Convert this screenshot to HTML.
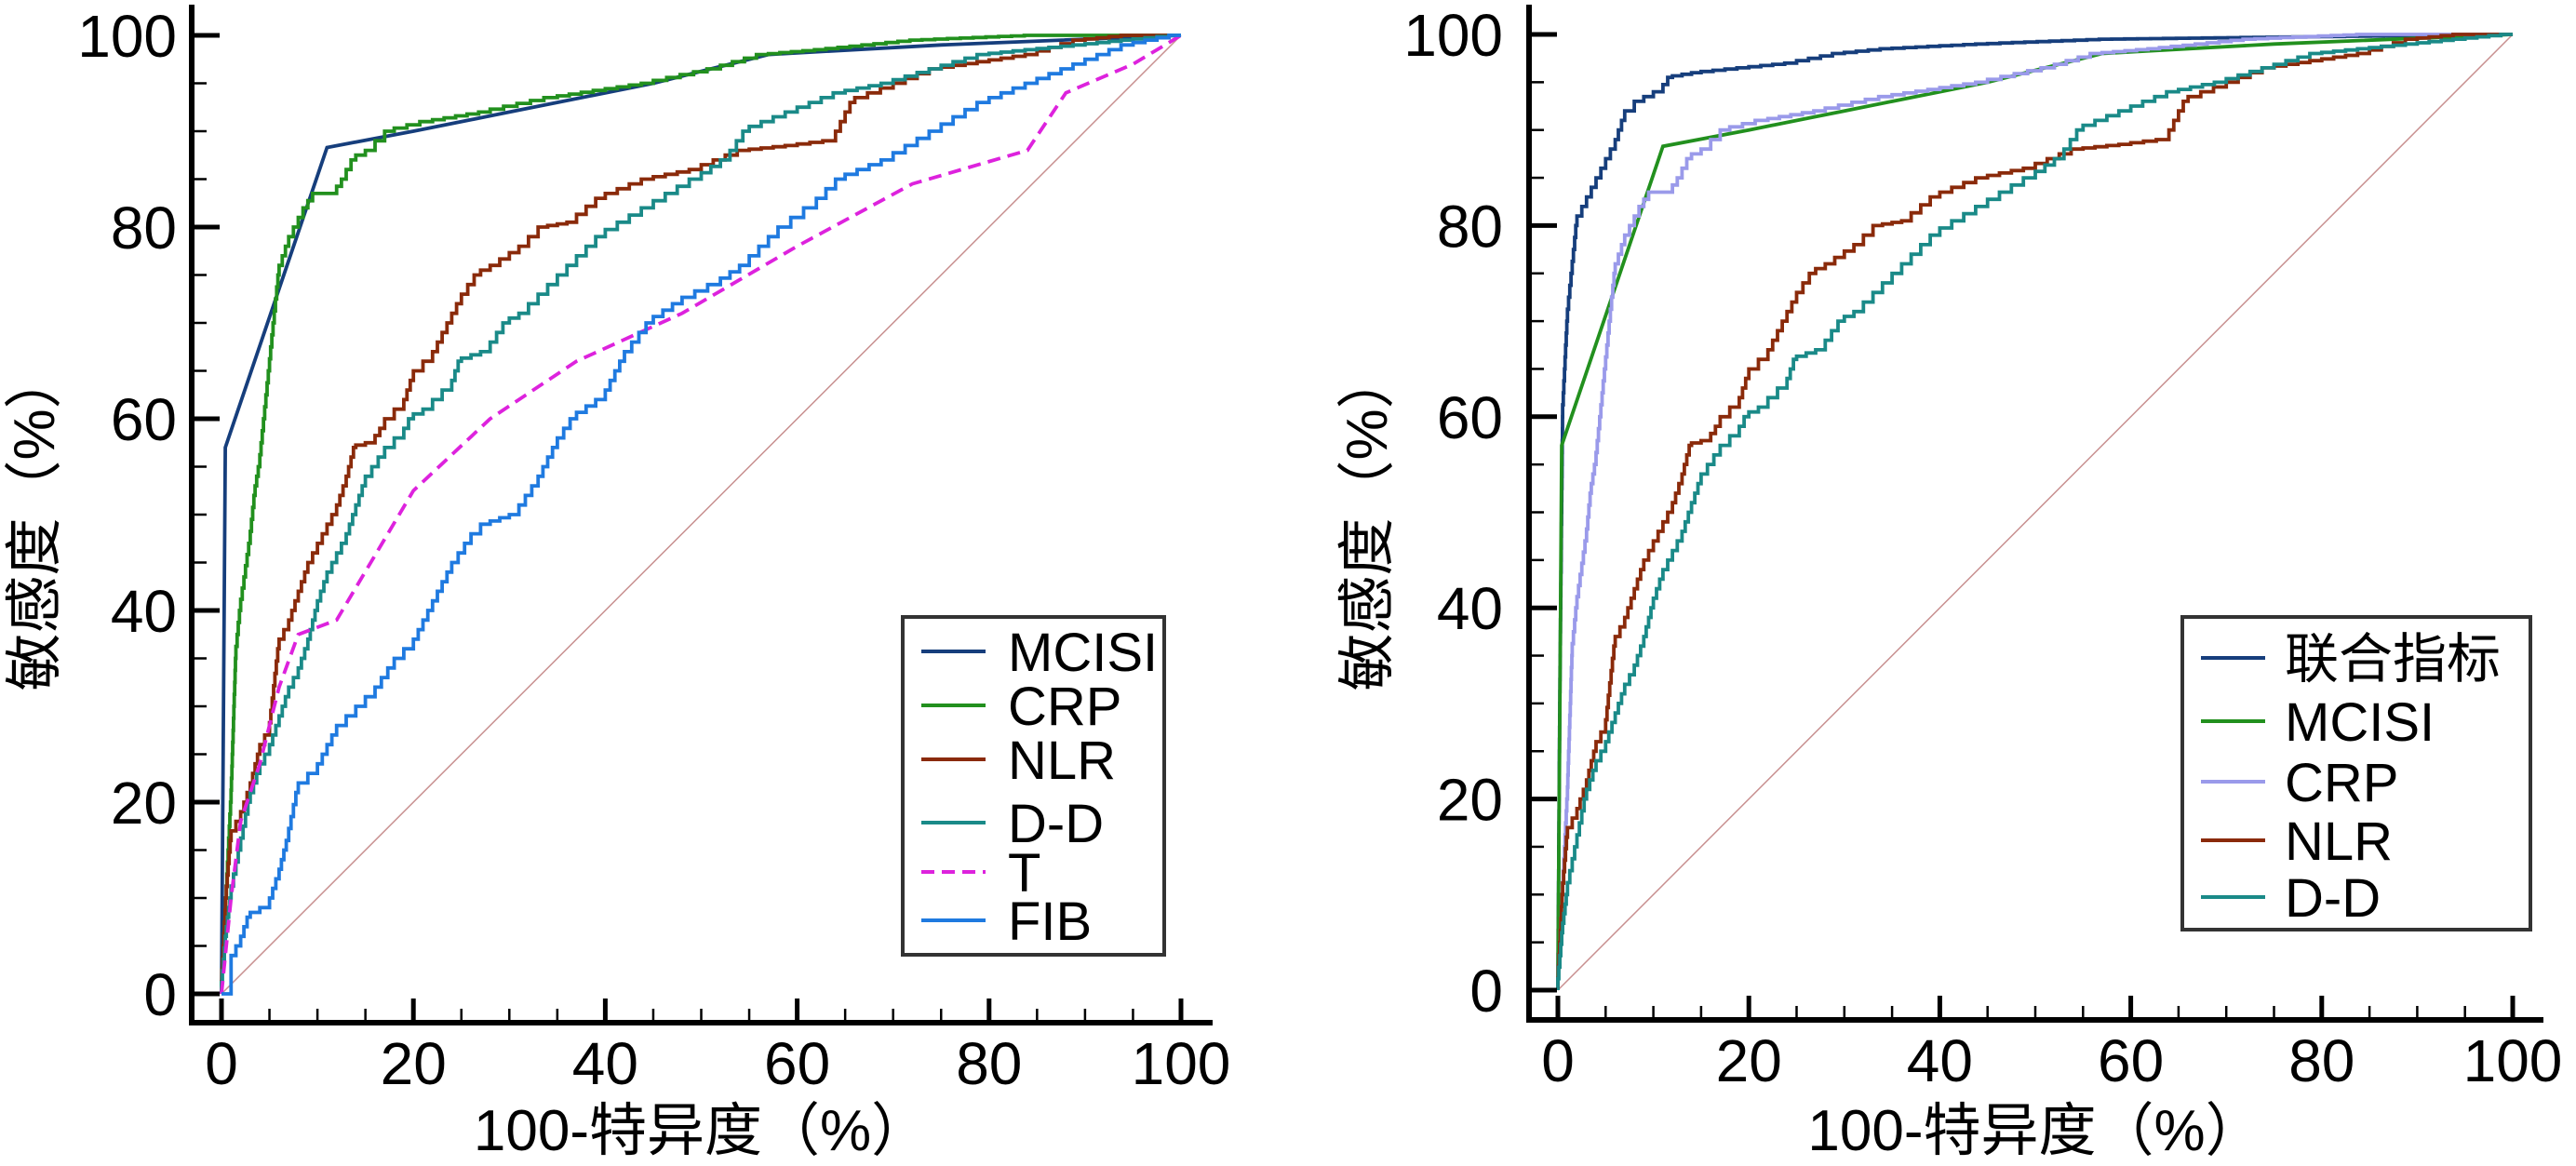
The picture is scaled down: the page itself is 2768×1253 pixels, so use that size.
<!DOCTYPE html>
<html><head><meta charset="utf-8">
<style>
html,body{margin:0;padding:0;background:#fff;}
svg{display:block;}
text{font-family:"Liberation Sans","Noto Sans CJK SC",sans-serif;fill:#000;}
</style></head>
<body>
<svg id="s" width="2768" height="1253" viewBox="0 0 2768 1253" xmlns="http://www.w3.org/2000/svg"></svg>
<script>
const S=document.getElementById('s');
let out='';
function stairsData(pts){
  const r=[[pts[0][0],pts[0][1]]];
  let cx=pts[0][0],cy=pts[0][1];
  for(let i=1;i<pts.length;i++){
    const [x1,y1]=pts[i];const dx=x1-cx,dy=y1-cy;
    const n=Math.max(1,Math.ceil(Math.max(dy/1.3,dx/1.4)));
    for(let k=1;k<=n;k++){
      const nx=cx+dx*k/n, ny=cy+dy*k/n, px=cx+dx*(k-1)/n;
      r.push([px,ny]); r.push([nx,ny]);
    }
    cx=x1;cy=y1;
  }
  return r;
}
const MCISI=[[0,0],[0.4,57],[11,88.3],[20,90],[30,92],[45,95],[57,98],[75,99],[100,100]];
const CRP=[[0,0],[0.5,10],[1,20],[1.5,35],[2,40],[3,47],[3.5,52],[4,55],[4.5,60],[5,65],[5.5,70],[6,75],[7,78],[8,80],[9,82],[10,83.5],[12,83.5],[13,85],[14,87],[16,88],[18,90],[22,91],[28,92],[35,93.5],[45,95],[52,96.5],[57,98],[63,98.5],[73,99.5],[85,100],[100,100]];
const NLR=[[0,0],[0.5,10],[1,16],[2,18],[3,21],[4,25],[5,27],[6,36],[7,38],[8,41],[9,44],[10,46],[11,48],[12,50],[13,53],[14,57],[16,57.5],[17,59],[19,61],[20,64],[22,66],[24,70],[25,72],[27,75],[29,76],[32,78],[34,80],[37,80.5],[40,83],[45,85],[50,86],[55,88],[60,88.5],[64,89],[66,93],[70,94.5],[75,96.5],[85,98],[90,99.5],[95,100],[100,100]];
const DD=[[0,0],[0.5,6],[1,10],[2,15],[3,20],[4,23],[5,25],[6,28],[7,31],[8,33],[9,36],[10,40],[11,43],[12,45],[13,47],[14,50],[15,53],[17,56],[19,58],[20,60],[22,61],[24,63],[25,66],[28,67],[30,70],[32,71],[35,74],[38,77],[40,79],[45,82],[50,85],[53,87],[55,90],[60,92],[65,94],[70,95],[75,96.5],[80,98],[90,99],[100,100]];
const T=[[0,0],[1,10],[2,18],[4,24],[6,32],[8,37.5],[12,39],[20,52.5],[28,60],[37,66],[48,71],[60,78],[72,84.5],[84,88],[88,94],[95,97],[100,100]];
const FIB=[[0,0],[1,0],[1,3],[2,5],[3,8],[5,9],[6,12],[7,16],[8,21],[10,23],[12,27],[14,29],[16,31],[18,34],[20,36],[22,40],[24,44],[26,47],[28,49],[31,50],[33,53],[35,57],[37,60],[40,62],[42,66],[45,70],[48,72],[52,74],[55,76],[58,79],[62,82],[65,85],[70,87],[75,90],[80,93],[85,95],[90,97],[95,99],[100,100]];
const COMB=[[0,0],[0.2,30],[0.5,60],[1,70],[1.5,75],[2,80],[3,82],[4,84],[5,86],[6,88],[7,91],[8,92],[9,93],[11,94],[12,95.5],[15,96],[20,96.5],[25,97],[30,98],[35,98.5],[45,99],[58,99.5],[100,100]];

function panel(o){
  const {ax,x0,x100,y0,y100,xaxisY,xend,gap}=o;
  const sx=(x100-x0)/100, sy=(y0-y100)/100;
  let g='';
  g+=`<line x1="${x0}" y1="${y0}" x2="${x100}" y2="${y100}" stroke="#c89090" stroke-width="1.5"/>`;
  for(const s of o.series){
    const dp=s.smooth?s.pts:stairsData(s.pts);
    const d='M'+dp.map(p=>(x0+p[0]*sx).toFixed(1)+','+(y0-p[1]*sy).toFixed(1)).join(' L');
    g+=`<path d="${d}" fill="none" stroke="${s.c}" stroke-width="3.8" ${s.dash?'stroke-dasharray="14,8"':''} stroke-linejoin="miter"/>`;
  }
  g+=`<line x1="${ax}" y1="5" x2="${ax}" y2="${xaxisY+3}" stroke="#000" stroke-width="6"/>`;
  g+=`<line x1="${ax-3}" y1="${xaxisY}" x2="${xend}" y2="${xaxisY}" stroke="#000" stroke-width="6"/>`;
  for(let v=0;v<=100;v+=5){
    const maj=v%20==0;
    const y=y0-v*sy, x=x0+v*sx;
    g+=`<line x1="${ax}" y1="${y}" x2="${ax+(maj?30:16)}" y2="${y}" stroke="#000" stroke-width="${maj?5:2.5}"/>`;
    g+=`<line x1="${x}" y1="${xaxisY}" x2="${x}" y2="${xaxisY-(maj?26:15)}" stroke="#000" stroke-width="${maj?5:2.5}"/>`;
    if(maj){
      g+=`<text x="${ax-gap}" y="${y+23}" font-size="64" text-anchor="end">${v}</text>`;
      g+=`<text x="${x}" y="${xaxisY+66}" font-size="64" text-anchor="middle">${v}</text>`;
    }
  }
  g+=`<text x="${(x0+x100)/2}" y="1236" font-size="62" text-anchor="middle">100-特异度（%）</text>`;
  g+=`<text transform="translate(${o.ytx},560) rotate(-90)" font-size="62" text-anchor="middle">敏感度（%）</text>`;
  const L=o.leg;
  g+=`<rect x="${L.x}" y="${L.y}" width="${L.w}" height="${L.h}" fill="#fff" stroke="#333" stroke-width="4"/>`;
  o.series.forEach((s,i)=>{
    const ry=L.rows[i];
    g+=`<line x1="${L.lx}" y1="${ry}" x2="${L.lx+69}" y2="${ry}" stroke="${s.c}" stroke-width="4" ${s.dash?'stroke-dasharray="14,8"':''}/>`;
    g+=`<text x="${L.tx}" y="${ry+21}" font-size="58">${s.n}</text>`;
  });
  return g;
}
out+=panel({ax:206,x0:238,x100:1269,y0:1068,y100:38,xaxisY:1099,xend:1303,gap:16,ytx:58,
  series:[{n:'MCISI',pts:MCISI,c:'#163e7c',smooth:1},{n:'CRP',pts:CRP,c:'#22901e'},{n:'NLR',pts:NLR,c:'#8a2a0a'},{n:'D-D',pts:DD,c:'#1a8a88'},{n:'T',pts:T,c:'#dd22dd',smooth:1,dash:1},{n:'FIB',pts:FIB,c:'#1f7ae0'}],
  leg:{x:970,y:663,w:281,h:363,lx:990,tx:1083,rows:[700,758,816,884,937,989]}});
out+=panel({ax:1643,x0:1674,x100:2700,y0:1064,y100:37,xaxisY:1096,xend:2733,gap:28,ytx:1490,
  series:[{n:'联合指标',pts:COMB,c:'#163e7c'},{n:'MCISI',pts:MCISI,c:'#22901e',smooth:1},{n:'CRP',pts:CRP,c:'#9a9aea'},{n:'NLR',pts:NLR,c:'#8a2a0a'},{n:'D-D',pts:DD,c:'#1a8a88'}],
  leg:{x:2345,y:663,w:374,h:336,lx:2365,tx:2455,rows:[707,775,840,903,964]}});
S.innerHTML=out;
</script>
</body></html>
